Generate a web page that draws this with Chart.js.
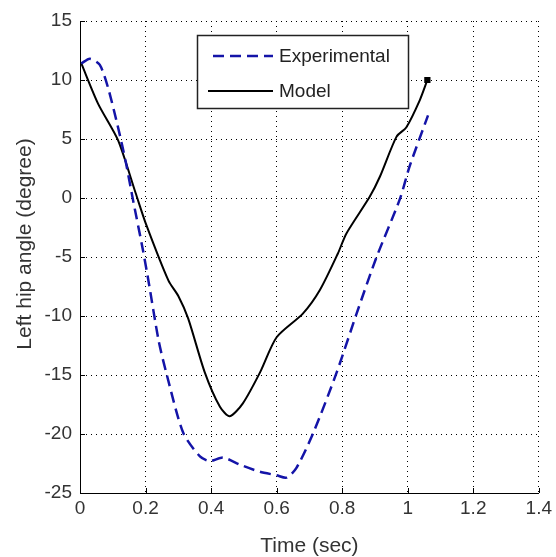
<!DOCTYPE html>
<html>
<head>
<meta charset="utf-8">
<script src="https://cdn.jsdelivr.net/npm/chart.js@4"></script>
<style>
  html, body { margin: 0; padding: 0; background: #fff; }
  #box { width: 556px; height: 557px; }
</style>
</head>
<body>
<div id="box"><canvas id="grafico"></canvas></div>
<script>
// dados
const tempoExp = [0.004, 0.03, 0.06, 0.085, 0.116, 0.14, 0.162, 0.192, 0.21, 0.24, 0.265, 0.315, 0.366, 0.396, 0.437, 0.488, 0.549, 0.60, 0.63, 0.66, 0.712, 0.783, 0.844, 0.905, 0.976, 1.006, 1.062];
const anguloExp = [11.4, 11.8, 11.3, 9.4, 6.0, 3.0, -0.2, -4.4, -7.2, -12.1, -15, -19.9, -21.9, -22.3, -22.0, -22.6, -23.2, -23.5, -23.7, -22.9, -19.9, -14.8, -9.8, -5.0, -0.1, 2.7, 7.0];

const tempoModelo = [0.004, 0.055, 0.116, 0.17, 0.2, 0.27, 0.30, 0.33, 0.381, 0.427, 0.457, 0.497, 0.549, 0.60, 0.68, 0.732, 0.787, 0.813, 0.884, 0.915, 0.966, 0.996, 1.037, 1.06];
const anguloModelo = [11.4, 8.0, 4.9, 0.4, -2.1, -7.0, -8.3, -10.2, -14.8, -17.7, -18.5, -17.4, -14.8, -11.8, -9.8, -7.8, -4.7, -3.0, 0.1, 1.8, 5.2, 6.0, 8.3, 10];

const ticksX = [0, 0.2, 0.4, 0.6, 0.8, 1, 1.2, 1.4];
const ticksY = [-25, -20, -15, -10, -5, 0, 5, 10, 15];
const nomes = ['Experimental', 'Model'];

function pontos(xs, ys) {
  return xs.map((x, i) => ({ x: x, y: ys[i] }));
}

// legenda dentro do grafico + marcas internas dos eixos
const extras = {
  id: 'extras',
  afterDraw(chart) {
    const ctx = chart.ctx;
    const sx = chart.scales.x, sy = chart.scales.y;
    const area = chart.chartArea;
    ctx.save();
    ctx.strokeStyle = '#000';
    ctx.lineWidth = 1;
    ctx.beginPath();
    ticksX.forEach(v => {
      const px = Math.round(sx.getPixelForValue(v)) + 0.5;
      ctx.moveTo(px, area.bottom);
      ctx.lineTo(px, area.bottom - 5);
    });
    ticksY.forEach(v => {
      const py = Math.round(sy.getPixelForValue(v)) + 0.5;
      ctx.moveTo(area.left, py);
      ctx.lineTo(area.left + 5, py);
    });
    ctx.stroke();

    // caixa da legenda
    const lx = 197, ly = 35, lw = 211, lh = 73;
    ctx.fillStyle = '#fff';
    ctx.fillRect(lx, ly, lw, lh);
    ctx.strokeStyle = '#222';
    ctx.lineWidth = 1.5;
    ctx.strokeRect(lx + 0.5, ly + 0.5, lw, lh);

    ctx.font = '19px "Liberation Sans", Arial, sans-serif';
    ctx.textBaseline = 'middle';
    const linhas = [56, 91];
    chart.data.datasets.forEach((ds, i) => {
      const y = linhas[i];
      ctx.beginPath();
      ctx.strokeStyle = ds.borderColor;
      ctx.lineWidth = ds.borderWidth;
      ctx.setLineDash(ds.borderDash || []);
      ctx.moveTo(i === 0 ? 213 : 208, y);
      ctx.lineTo(273, y);
      ctx.stroke();
      ctx.setLineDash([]);
      ctx.fillStyle = '#222';
      ctx.fillText(ds.label, 279, y + 1);
    });

    // titulo do eixo y (um pouco acima do centro, como no original)
    ctx.save();
    ctx.translate(25, 244);
    ctx.rotate(-Math.PI / 2);
    ctx.textAlign = 'center';
    ctx.font = '21px "Liberation Sans", Arial, sans-serif';
    ctx.fillStyle = '#333';
    ctx.fillText('Left hip angle (degree)', 0, 0);
    ctx.restore();
    ctx.restore();
  }
};

const ctx = document.getElementById('grafico').getContext('2d');
const grafico = new Chart(ctx, {
  type: 'line',
  data: {
    datasets: [{
      label: nomes[0],
      data: pontos(tempoExp, anguloExp),
      borderColor: '#1414a8',
      borderWidth: 2.5,
      borderDash: [11, 6],
      pointRadius: 0,
      tension: 0.25,
      fill: false
    }, {
      label: nomes[1],
      data: pontos(tempoModelo, anguloModelo),
      borderColor: '#000',
      backgroundColor: '#000',
      borderWidth: 2,
      pointStyle: 'rect',
      pointRadius: (c) => c.dataIndex === tempoModelo.length - 1 ? 3 : 0,
      tension: 0.25,
      fill: false
    }]
  },
  options: {
    responsive: true,
    maintainAspectRatio: false,
    animation: false,
    layout: { padding: { top: 21, right: 17, left: 0, bottom: 0 } },
    plugins: {
      legend: { display: false },
      tooltip: { enabled: false }
    },
    scales: {
      x: {
        type: 'linear',
        min: 0,
        max: 1.4,
        afterBuildTicks: (s) => { s.ticks = ticksX.map(v => ({ value: v })); },
        afterFit: (s) => { s.height = 64; },
        ticks: {
          color: '#333',
          padding: 4,
          maxRotation: 0,
          font: { family: '"Liberation Sans", Arial, sans-serif', size: 19 },
          callback: (v) => String(v)
        },
        grid: { color: '#000', lineWidth: 1, drawTicks: false },
        border: { display: true, color: '#000', width: 1, dash: [1, 4] },
        title: {
          display: true,
          text: 'Time (sec)',
          color: '#333',
          padding: 0,
          font: { family: '"Liberation Sans", Arial, sans-serif', size: 21, lineHeight: 1 }
        }
      },
      y: {
        type: 'linear',
        min: -25,
        max: 15,
        afterBuildTicks: (s) => { s.ticks = ticksY.map(v => ({ value: v })); },
        afterFit: (s) => { s.width = 80; },
        ticks: {
          color: '#333',
          padding: 8,
          font: { family: '"Liberation Sans", Arial, sans-serif', size: 19 },
          callback: (v) => String(v)
        },
        grid: { color: '#000', lineWidth: 1, drawTicks: false },
        border: { display: true, color: '#000', width: 1, dash: [1, 4] },
        title: { display: false }
      }
    }
  },
  plugins: [extras]
});
</script>
</body>
</html>
